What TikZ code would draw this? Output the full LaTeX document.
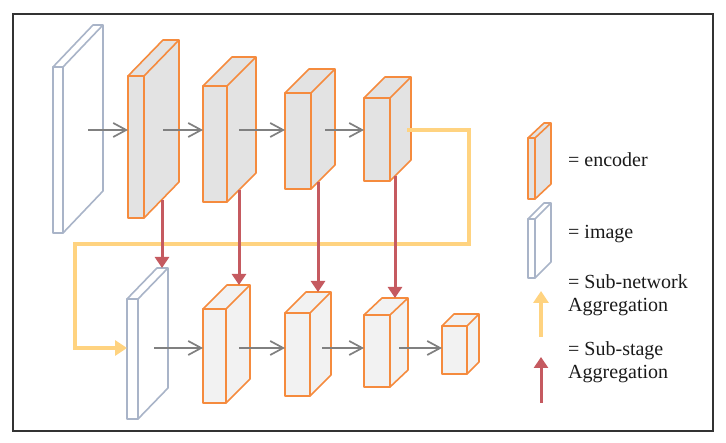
\documentclass[tikz,border=0pt]{standalone}
\usepackage{fontspec}
\setmainfont{Liberation Serif}
\usetikzlibrary{arrows.meta,calc}
\definecolor{encline}{HTML}{F58B3E}
\definecolor{encfillA}{HTML}{E3E3E3}
\definecolor{encfillB}{HTML}{F2F2F2}
\definecolor{imgline}{HTML}{A9B4C8}
\definecolor{grayarr}{HTML}{808080}
\definecolor{redarr}{HTML}{C55A60}
\definecolor{yelarr}{HTML}{FFD380}
\definecolor{framecol}{HTML}{333333}
\definecolor{txtcol}{HTML}{1A1A1A}
\newcommand\boxdepth[4]{%
  \filldraw[#4] (#1.north west) -- ++(#2,-#3) -- ($(#1.north east)+(#2,-#3)$) -- ($(#1.south east)+(#2,-#3)$) -- (#1.south east) -- (#1.north east) -- cycle;
  \draw[#4] (#1.north east) -- ++(#2,-#3);
}
\tikzset{
  face/.style={inner sep=0pt, outer sep=0pt, anchor=north west, line width=1.6pt, line join=round},
  encA/.style={face, draw=encline, fill=encfillA},
  encB/.style={face, draw=encline, fill=encfillB},
  imgbox/.style={face, draw=imgline, fill=white},
  sideA/.style={draw=encline, fill=encfillA, line width=1.6pt, line join=round},
  sideB/.style={draw=encline, fill=encfillB, line width=1.6pt, line join=round},
  sideI/.style={draw=imgline, fill=white, line width=1.6pt, line join=round},
  flow/.style={draw=grayarr, line width=1.7pt, -{Straight Barb[length=13pt,width=14pt,line width=1.7pt]}},
  subnet/.style={draw=yelarr, line width=3.2pt, -{Triangle[length=12pt,width=15pt]}},
  substage/.style={draw=redarr, line width=3pt, -{Triangle[length=11pt,width=14pt]}},
  legtext/.style={anchor=base west, inner sep=0pt, align=left, text=txtcol, font=\fontsize{20}{23.5}\selectfont},
}
\begin{document}
\begin{tikzpicture}[x=1pt,y=-1pt]
\useasboundingbox (0,0) rectangle (726,443);
\draw[framecol, line width=1.8pt] (13,14) rectangle (713,431);

% top row
\node[imgbox, minimum width=10pt, minimum height=166pt] (img1) at (53,67) {};
\boxdepth{img1}{40}{42}{sideI}
\node[encA, minimum width=16pt, minimum height=142pt] (e1) at (128,76) {};
\boxdepth{e1}{35}{36}{sideA}
\node[encA, minimum width=24pt, minimum height=116pt] (e2) at (203,86) {};
\boxdepth{e2}{29}{29}{sideA}
\node[encA, minimum width=26pt, minimum height=96pt] (e3) at (285,93) {};
\boxdepth{e3}{24}{24}{sideA}
\node[encA, minimum width=26pt, minimum height=83pt] (e4) at (364,98) {};
\boxdepth{e4}{21}{21}{sideA}

% bottom row
\node[imgbox, minimum width=11pt, minimum height=120pt] (img2) at (127,299) {};
\boxdepth{img2}{30}{31}{sideI}
\node[encB, minimum width=23pt, minimum height=94pt] (b1) at (203,309) {};
\boxdepth{b1}{24}{24}{sideB}
\node[encB, minimum width=25pt, minimum height=83pt] (b2) at (285,313) {};
\boxdepth{b2}{21}{21}{sideB}
\node[encB, minimum width=26pt, minimum height=72pt] (b3) at (364,315) {};
\boxdepth{b3}{18}{17}{sideB}
\node[encB, minimum width=25pt, minimum height=48pt] (b4) at (442,326) {};
\boxdepth{b4}{12}{12}{sideB}

% legend icons
\node[encA, minimum width=7pt, minimum height=61pt] (lenc) at (528,138) {};
\boxdepth{lenc}{16}{15}{sideA}
\node[imgbox, minimum width=7pt, minimum height=59pt] (limg) at (528,219) {};
\boxdepth{limg}{16}{16}{sideI}

% flow arrows top row
\coordinate (s1) at (88,130);
\coordinate (s2) at (163,130);
\coordinate (s3) at (239,130);
\coordinate (s4) at (325,130);
\draw[flow] (s1) -- (e1.west |- s1);
\draw[flow] (s2) -- (e2.west |- s2);
\draw[flow] (s3) -- (e3.west |- s3);
\draw[flow] (s4) -- (e4.west |- s4);

% flow arrows bottom row
\coordinate (t1) at (154,348);
\coordinate (t2) at (239,348);
\coordinate (t3) at (322,348);
\coordinate (t4) at (399,348);
\draw[flow] (t1) -- (b1.west |- t1);
\draw[flow] (t2) -- (b2.west |- t2);
\draw[flow] (t3) -- (b3.west |- t3);
\draw[flow] (t4) -- (b4.west |- t4);

% sub-network aggregation
\coordinate (y0) at (407,130);
\coordinate (y1) at (75,348);
\draw[subnet] (y0) -- (469,130) -- (469,244) -- (75,244) -- (y1) -- (img2.west |- y1);

% sub-stage aggregation
\coordinate (r1) at (162,200);
\coordinate (r1e) at (162,268);
\coordinate (r2) at (239,190);
\coordinate (r2e) at (239,285);
\coordinate (r3) at (318,182);
\coordinate (r3e) at (318,292);
\coordinate (r4) at (395,176);
\coordinate (r4e) at (395,298);
\draw[substage] (r1) -- (r1e);
\draw[substage] (r2) -- (r2e);
\draw[substage] (r3) -- (r3e);
\draw[substage] (r4) -- (r4e);

% legend arrows
\coordinate (ly0) at (541,337);
\coordinate (ly1) at (541,291);
\draw[subnet] (ly0) -- (ly1);
\coordinate (lr0) at (541,403);
\coordinate (lr1) at (541,357);
\draw[substage] (lr0) -- (lr1);

% legend text
\node[legtext] (tenc) at (568,167) {= encoder};
\node[legtext] (timg) at (568,239) {= image};
\node[legtext] (tnet) at (568,312) {= Sub-network\\Aggregation};
\node[legtext] (tstg) at (568,379) {= Sub-stage\\Aggregation};
\end{tikzpicture}
\end{document}
